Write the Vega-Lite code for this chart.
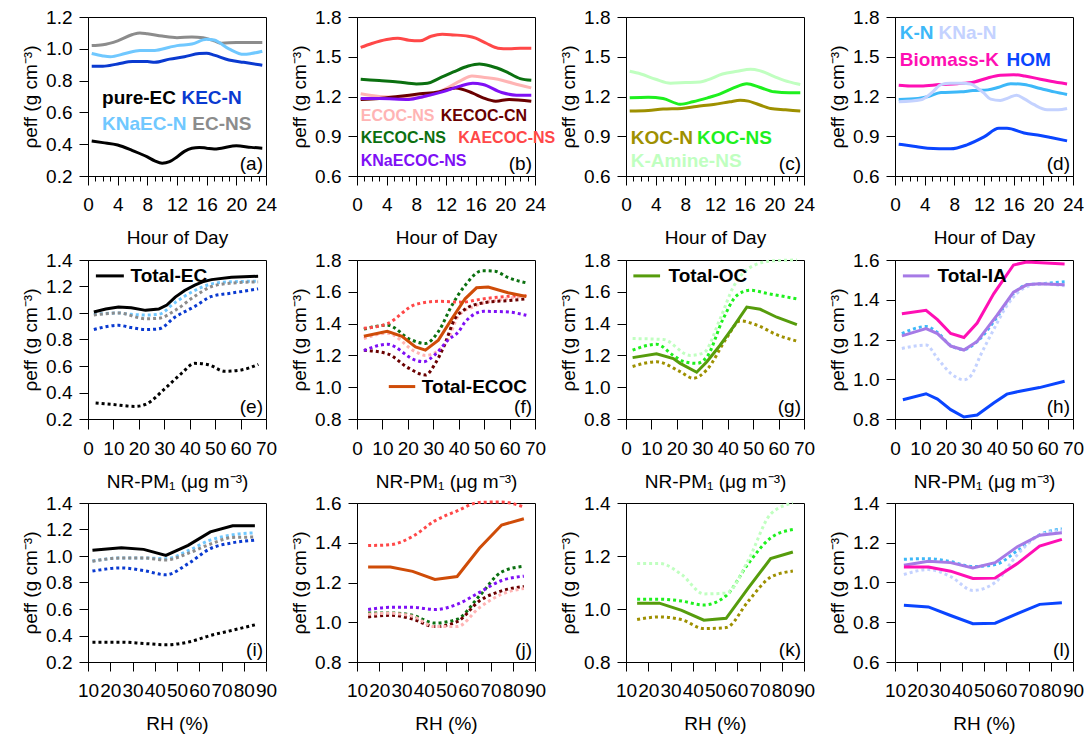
{
"$schema": "https://vega.github.io/schema/vega-lite/v6.json",
"padding": {"left": 21, "top": 7, "right": 4, "bottom": 4},
"config": {
 "font": "Liberation Sans",
 "legend": {"disable": true},
 "view": {"stroke": "#000", "strokeWidth": 1},
 "axis": {"grid": false, "domainColor": "#000", "domainWidth": 1, "tickColor": "#000", "tickWidth": 1, "tickSize": 9, "labelColor": "#000", "titleColor": "#000", "labelFont": "Liberation Sans", "titleFont": "Liberation Sans", "labelFontSize": 19, "titleFontSize": 19, "titleFontWeight": "normal", "labelFlush": false, "labelOverlap": false},
 "axisX": {"labelPadding": 10, "titlePadding": 14},
 "axisY": {"labelPadding": 7, "titlePadding": 5},
 "text": {"font": "Liberation Sans", "fontSize": 19}
},
"datasets": {"L": [
{"p":"a","s":"pure-EC","x":0.5,"y":0.42},{"p":"a","s":"pure-EC","x":2,"y":0.41},{"p":"a","s":"pure-EC","x":4,"y":0.395},{"p":"a","s":"pure-EC","x":6,"y":0.36},{"p":"a","s":"pure-EC","x":8,"y":0.32},{"p":"a","s":"pure-EC","x":9,"y":0.295},{"p":"a","s":"pure-EC","x":10,"y":0.28},{"p":"a","s":"pure-EC","x":11,"y":0.29},{"p":"a","s":"pure-EC","x":12,"y":0.32},{"p":"a","s":"pure-EC","x":13,"y":0.355},{"p":"a","s":"pure-EC","x":14,"y":0.375},{"p":"a","s":"pure-EC","x":15,"y":0.38},{"p":"a","s":"pure-EC","x":16,"y":0.375},{"p":"a","s":"pure-EC","x":17,"y":0.37},{"p":"a","s":"pure-EC","x":18,"y":0.375},{"p":"a","s":"pure-EC","x":20,"y":0.39},{"p":"a","s":"pure-EC","x":22,"y":0.38},{"p":"a","s":"pure-EC","x":23.5,"y":0.375},
{"p":"a","s":"EC-NS","x":0.5,"y":1.02},{"p":"a","s":"EC-NS","x":2,"y":1.025},{"p":"a","s":"EC-NS","x":4,"y":1.05},{"p":"a","s":"EC-NS","x":6,"y":1.09},{"p":"a","s":"EC-NS","x":7,"y":1.1},{"p":"a","s":"EC-NS","x":8,"y":1.095},{"p":"a","s":"EC-NS","x":10,"y":1.08},{"p":"a","s":"EC-NS","x":12,"y":1.07},{"p":"a","s":"EC-NS","x":14,"y":1.075},{"p":"a","s":"EC-NS","x":15.5,"y":1.07},{"p":"a","s":"EC-NS","x":17,"y":1.05},{"p":"a","s":"EC-NS","x":18,"y":1.035},{"p":"a","s":"EC-NS","x":20,"y":1.04},{"p":"a","s":"EC-NS","x":22,"y":1.04},{"p":"a","s":"EC-NS","x":23.5,"y":1.04},
{"p":"a","s":"KNaEC-N","x":0.5,"y":0.97},{"p":"a","s":"KNaEC-N","x":2,"y":0.955},{"p":"a","s":"KNaEC-N","x":3,"y":0.95},{"p":"a","s":"KNaEC-N","x":5,"y":0.97},{"p":"a","s":"KNaEC-N","x":7,"y":0.99},{"p":"a","s":"KNaEC-N","x":9,"y":0.99},{"p":"a","s":"KNaEC-N","x":11,"y":1.01},{"p":"a","s":"KNaEC-N","x":12,"y":1.02},{"p":"a","s":"KNaEC-N","x":14,"y":1.03},{"p":"a","s":"KNaEC-N","x":16,"y":1.06},{"p":"a","s":"KNaEC-N","x":17,"y":1.055},{"p":"a","s":"KNaEC-N","x":19,"y":1.0},{"p":"a","s":"KNaEC-N","x":21,"y":0.965},{"p":"a","s":"KNaEC-N","x":22,"y":0.97},{"p":"a","s":"KNaEC-N","x":23.5,"y":0.985},
{"p":"a","s":"KEC-N","x":0.5,"y":0.89},{"p":"a","s":"KEC-N","x":2,"y":0.89},{"p":"a","s":"KEC-N","x":4,"y":0.905},{"p":"a","s":"KEC-N","x":6,"y":0.92},{"p":"a","s":"KEC-N","x":8,"y":0.92},{"p":"a","s":"KEC-N","x":9,"y":0.915},{"p":"a","s":"KEC-N","x":11,"y":0.935},{"p":"a","s":"KEC-N","x":13,"y":0.95},{"p":"a","s":"KEC-N","x":15,"y":0.97},{"p":"a","s":"KEC-N","x":16,"y":0.972},{"p":"a","s":"KEC-N","x":17,"y":0.96},{"p":"a","s":"KEC-N","x":19,"y":0.93},{"p":"a","s":"KEC-N","x":21,"y":0.915},{"p":"a","s":"KEC-N","x":23.5,"y":0.897},
{"p":"b","s":"KAECOC-NS","x":0.5,"y":1.57},{"p":"b","s":"KAECOC-NS","x":2,"y":1.6},{"p":"b","s":"KAECOC-NS","x":4,"y":1.63},{"p":"b","s":"KAECOC-NS","x":5.5,"y":1.64},{"p":"b","s":"KAECOC-NS","x":7,"y":1.625},{"p":"b","s":"KAECOC-NS","x":8.5,"y":1.62},{"p":"b","s":"KAECOC-NS","x":10,"y":1.655},{"p":"b","s":"KAECOC-NS","x":11.5,"y":1.67},{"p":"b","s":"KAECOC-NS","x":13,"y":1.665},{"p":"b","s":"KAECOC-NS","x":15,"y":1.655},{"p":"b","s":"KAECOC-NS","x":16,"y":1.64},{"p":"b","s":"KAECOC-NS","x":17.5,"y":1.6},{"p":"b","s":"KAECOC-NS","x":19,"y":1.565},{"p":"b","s":"KAECOC-NS","x":20.5,"y":1.56},{"p":"b","s":"KAECOC-NS","x":22,"y":1.565},{"p":"b","s":"KAECOC-NS","x":23.5,"y":1.565},
{"p":"b","s":"KECOC-NS","x":0.5,"y":1.33},{"p":"b","s":"KECOC-NS","x":3,"y":1.32},{"p":"b","s":"KECOC-NS","x":5.5,"y":1.31},{"p":"b","s":"KECOC-NS","x":8,"y":1.295},{"p":"b","s":"KECOC-NS","x":9.5,"y":1.3},{"p":"b","s":"KECOC-NS","x":11,"y":1.335},{"p":"b","s":"KECOC-NS","x":13,"y":1.385},{"p":"b","s":"KECOC-NS","x":15,"y":1.43},{"p":"b","s":"KECOC-NS","x":16.5,"y":1.445},{"p":"b","s":"KECOC-NS","x":18,"y":1.43},{"p":"b","s":"KECOC-NS","x":20,"y":1.39},{"p":"b","s":"KECOC-NS","x":22,"y":1.335},{"p":"b","s":"KECOC-NS","x":23.5,"y":1.322},
{"p":"b","s":"ECOC-NS","x":0.5,"y":1.22},{"p":"b","s":"ECOC-NS","x":3,"y":1.2},{"p":"b","s":"ECOC-NS","x":5,"y":1.195},{"p":"b","s":"ECOC-NS","x":8,"y":1.19},{"p":"b","s":"ECOC-NS","x":10,"y":1.215},{"p":"b","s":"ECOC-NS","x":12,"y":1.26},{"p":"b","s":"ECOC-NS","x":14,"y":1.32},{"p":"b","s":"ECOC-NS","x":15.5,"y":1.355},{"p":"b","s":"ECOC-NS","x":17,"y":1.345},{"p":"b","s":"ECOC-NS","x":19,"y":1.33},{"p":"b","s":"ECOC-NS","x":21,"y":1.3},{"p":"b","s":"ECOC-NS","x":23.5,"y":1.265},
{"p":"b","s":"KECOC-CN","x":0.5,"y":1.178},{"p":"b","s":"KECOC-CN","x":3,"y":1.185},{"p":"b","s":"KECOC-CN","x":5.5,"y":1.2},{"p":"b","s":"KECOC-CN","x":8.5,"y":1.22},{"p":"b","s":"KECOC-CN","x":11,"y":1.235},{"p":"b","s":"KECOC-CN","x":13.3,"y":1.265},{"p":"b","s":"KECOC-CN","x":15.6,"y":1.225},{"p":"b","s":"KECOC-CN","x":17,"y":1.19},{"p":"b","s":"KECOC-CN","x":18.7,"y":1.165},{"p":"b","s":"KECOC-CN","x":20.5,"y":1.178},{"p":"b","s":"KECOC-CN","x":23.5,"y":1.165},
{"p":"b","s":"KNaECOC-NS","x":0.5,"y":1.185},{"p":"b","s":"KNaECOC-NS","x":3,"y":1.185},{"p":"b","s":"KNaECOC-NS","x":7,"y":1.178},{"p":"b","s":"KNaECOC-NS","x":9,"y":1.2},{"p":"b","s":"KNaECOC-NS","x":11.5,"y":1.235},{"p":"b","s":"KNaECOC-NS","x":14,"y":1.28},{"p":"b","s":"KNaECOC-NS","x":15.6,"y":1.3},{"p":"b","s":"KNaECOC-NS","x":17,"y":1.29},{"p":"b","s":"KNaECOC-NS","x":19.5,"y":1.23},{"p":"b","s":"KNaECOC-NS","x":21.5,"y":1.21},{"p":"b","s":"KNaECOC-NS","x":23.5,"y":1.21},
{"p":"c","s":"K-Amine-NS","x":0.5,"y":1.39},{"p":"c","s":"K-Amine-NS","x":2,"y":1.37},{"p":"c","s":"K-Amine-NS","x":4,"y":1.33},{"p":"c","s":"K-Amine-NS","x":6,"y":1.3},{"p":"c","s":"K-Amine-NS","x":8,"y":1.305},{"p":"c","s":"K-Amine-NS","x":10,"y":1.31},{"p":"c","s":"K-Amine-NS","x":11,"y":1.325},{"p":"c","s":"K-Amine-NS","x":13,"y":1.37},{"p":"c","s":"K-Amine-NS","x":15,"y":1.39},{"p":"c","s":"K-Amine-NS","x":16.8,"y":1.405},{"p":"c","s":"K-Amine-NS","x":18,"y":1.395},{"p":"c","s":"K-Amine-NS","x":20,"y":1.35},{"p":"c","s":"K-Amine-NS","x":22,"y":1.31},{"p":"c","s":"K-Amine-NS","x":23.5,"y":1.29},
{"p":"c","s":"KOC-NS","x":0.5,"y":1.19},{"p":"c","s":"KOC-NS","x":3,"y":1.195},{"p":"c","s":"KOC-NS","x":5,"y":1.185},{"p":"c","s":"KOC-NS","x":7.3,"y":1.142},{"p":"c","s":"KOC-NS","x":9,"y":1.16},{"p":"c","s":"KOC-NS","x":11,"y":1.19},{"p":"c","s":"KOC-NS","x":12.7,"y":1.22},{"p":"c","s":"KOC-NS","x":14.5,"y":1.265},{"p":"c","s":"KOC-NS","x":16.3,"y":1.297},{"p":"c","s":"KOC-NS","x":18,"y":1.27},{"p":"c","s":"KOC-NS","x":20,"y":1.235},{"p":"c","s":"KOC-NS","x":22,"y":1.228},{"p":"c","s":"KOC-NS","x":23.5,"y":1.228},
{"p":"c","s":"KOC-N","x":0.5,"y":1.09},{"p":"c","s":"KOC-N","x":3,"y":1.095},{"p":"c","s":"KOC-N","x":5,"y":1.105},{"p":"c","s":"KOC-N","x":7.5,"y":1.11},{"p":"c","s":"KOC-N","x":9.5,"y":1.125},{"p":"c","s":"KOC-N","x":11.8,"y":1.14},{"p":"c","s":"KOC-N","x":14,"y":1.16},{"p":"c","s":"KOC-N","x":15.4,"y":1.172},{"p":"c","s":"KOC-N","x":16.5,"y":1.165},{"p":"c","s":"KOC-N","x":17.6,"y":1.145},{"p":"c","s":"KOC-N","x":19.5,"y":1.11},{"p":"c","s":"KOC-N","x":21.5,"y":1.1},{"p":"c","s":"KOC-N","x":23.5,"y":1.09},
{"p":"d","s":"Biomass-K","x":0.5,"y":1.285},{"p":"d","s":"Biomass-K","x":2,"y":1.28},{"p":"d","s":"Biomass-K","x":3.5,"y":1.28},{"p":"d","s":"Biomass-K","x":6,"y":1.29},{"p":"d","s":"Biomass-K","x":8.4,"y":1.297},{"p":"d","s":"Biomass-K","x":10.7,"y":1.31},{"p":"d","s":"Biomass-K","x":12.5,"y":1.34},{"p":"d","s":"Biomass-K","x":14.2,"y":1.36},{"p":"d","s":"Biomass-K","x":16,"y":1.365},{"p":"d","s":"Biomass-K","x":17.5,"y":1.355},{"p":"d","s":"Biomass-K","x":19.6,"y":1.33},{"p":"d","s":"Biomass-K","x":21,"y":1.315},{"p":"d","s":"Biomass-K","x":23.2,"y":1.295},
{"p":"d","s":"K-N","x":0.5,"y":1.178},{"p":"d","s":"K-N","x":3.1,"y":1.185},{"p":"d","s":"K-N","x":4.5,"y":1.2},{"p":"d","s":"K-N","x":6.2,"y":1.23},{"p":"d","s":"K-N","x":8.9,"y":1.235},{"p":"d","s":"K-N","x":10.5,"y":1.245},{"p":"d","s":"K-N","x":12.5,"y":1.25},{"p":"d","s":"K-N","x":14,"y":1.27},{"p":"d","s":"K-N","x":15.6,"y":1.297},{"p":"d","s":"K-N","x":17.4,"y":1.29},{"p":"d","s":"K-N","x":19.6,"y":1.26},{"p":"d","s":"K-N","x":21.5,"y":1.235},{"p":"d","s":"K-N","x":23.2,"y":1.215},
{"p":"d","s":"KNa-N","x":0.5,"y":1.16},{"p":"d","s":"KNa-N","x":3.5,"y":1.175},{"p":"d","s":"KNa-N","x":5,"y":1.23},{"p":"d","s":"KNa-N","x":6.2,"y":1.29},{"p":"d","s":"KNa-N","x":7.5,"y":1.3},{"p":"d","s":"KNa-N","x":9,"y":1.3},{"p":"d","s":"KNa-N","x":10.2,"y":1.295},{"p":"d","s":"KNa-N","x":11.2,"y":1.26},{"p":"d","s":"KNa-N","x":12,"y":1.225},{"p":"d","s":"KNa-N","x":12.9,"y":1.18},{"p":"d","s":"KNa-N","x":14.2,"y":1.17},{"p":"d","s":"KNa-N","x":15.3,"y":1.19},{"p":"d","s":"KNa-N","x":16.4,"y":1.21},{"p":"d","s":"KNa-N","x":17.5,"y":1.18},{"p":"d","s":"KNa-N","x":18.7,"y":1.14},{"p":"d","s":"KNa-N","x":20.5,"y":1.1},{"p":"d","s":"KNa-N","x":22,"y":1.1},{"p":"d","s":"KNa-N","x":23.2,"y":1.11},
{"p":"d","s":"HOM","x":0.5,"y":0.84},{"p":"d","s":"HOM","x":2.5,"y":0.825},{"p":"d","s":"HOM","x":4.4,"y":0.81},{"p":"d","s":"HOM","x":7.5,"y":0.805},{"p":"d","s":"HOM","x":9.7,"y":0.835},{"p":"d","s":"HOM","x":12,"y":0.895},{"p":"d","s":"HOM","x":14,"y":0.96},{"p":"d","s":"HOM","x":15.1,"y":0.96},{"p":"d","s":"HOM","x":17.4,"y":0.925},{"p":"d","s":"HOM","x":19.6,"y":0.905},{"p":"d","s":"HOM","x":21,"y":0.89},{"p":"d","s":"HOM","x":23.2,"y":0.865},
{"p":"e","s":"Total-EC","x":2.3,"y":1.007},{"p":"e","s":"Total-EC","x":7,"y":1.03},{"p":"e","s":"Total-EC","x":12,"y":1.045},{"p":"e","s":"Total-EC","x":17,"y":1.04},{"p":"e","s":"Total-EC","x":22.6,"y":1.02},{"p":"e","s":"Total-EC","x":27.8,"y":1.03},{"p":"e","s":"Total-EC","x":31,"y":1.06},{"p":"e","s":"Total-EC","x":34.3,"y":1.12},{"p":"e","s":"Total-EC","x":38,"y":1.17},{"p":"e","s":"Total-EC","x":42,"y":1.21},{"p":"e","s":"Total-EC","x":45,"y":1.235},{"p":"e","s":"Total-EC","x":48.6,"y":1.252},{"p":"e","s":"Total-EC","x":56.4,"y":1.27},{"p":"e","s":"Total-EC","x":66.9,"y":1.277},
{"p":"e","s":"KNaEC-N","x":2.3,"y":0.99},{"p":"e","s":"KNaEC-N","x":12,"y":1.0},{"p":"e","s":"KNaEC-N","x":17,"y":0.99},{"p":"e","s":"KNaEC-N","x":22.6,"y":0.985},{"p":"e","s":"KNaEC-N","x":27.8,"y":0.99},{"p":"e","s":"KNaEC-N","x":34.3,"y":1.08},{"p":"e","s":"KNaEC-N","x":42,"y":1.17},{"p":"e","s":"KNaEC-N","x":48.6,"y":1.22},{"p":"e","s":"KNaEC-N","x":56,"y":1.235},{"p":"e","s":"KNaEC-N","x":66.9,"y":1.24},
{"p":"e","s":"EC-NS","x":2.3,"y":0.985},{"p":"e","s":"EC-NS","x":12,"y":1.0},{"p":"e","s":"EC-NS","x":22.6,"y":0.957},{"p":"e","s":"EC-NS","x":27.8,"y":0.96},{"p":"e","s":"EC-NS","x":34.3,"y":1.02},{"p":"e","s":"EC-NS","x":42,"y":1.127},{"p":"e","s":"EC-NS","x":48.6,"y":1.2},{"p":"e","s":"EC-NS","x":56,"y":1.225},{"p":"e","s":"EC-NS","x":66.9,"y":1.235},
{"p":"e","s":"KEC-N","x":2.3,"y":0.875},{"p":"e","s":"KEC-N","x":12,"y":0.907},{"p":"e","s":"KEC-N","x":17,"y":0.89},{"p":"e","s":"KEC-N","x":22.6,"y":0.875},{"p":"e","s":"KEC-N","x":27.8,"y":0.88},{"p":"e","s":"KEC-N","x":34.3,"y":0.97},{"p":"e","s":"KEC-N","x":42,"y":1.05},{"p":"e","s":"KEC-N","x":48.6,"y":1.125},{"p":"e","s":"KEC-N","x":56.4,"y":1.15},{"p":"e","s":"KEC-N","x":66.9,"y":1.182},
{"p":"e","s":"pure-EC","x":3,"y":0.32},{"p":"e","s":"pure-EC","x":9.4,"y":0.31},{"p":"e","s":"pure-EC","x":18.6,"y":0.295},{"p":"e","s":"pure-EC","x":22.6,"y":0.31},{"p":"e","s":"pure-EC","x":30.4,"y":0.432},{"p":"e","s":"pure-EC","x":36.8,"y":0.545},{"p":"e","s":"pure-EC","x":42,"y":0.62},{"p":"e","s":"pure-EC","x":47.3,"y":0.61},{"p":"e","s":"pure-EC","x":53.8,"y":0.56},{"p":"e","s":"pure-EC","x":60.3,"y":0.57},{"p":"e","s":"pure-EC","x":67,"y":0.613},
{"p":"f","s":"Total-ECOC","x":2.7,"y":1.32},{"p":"f","s":"Total-ECOC","x":11.9,"y":1.352},{"p":"f","s":"Total-ECOC","x":17.7,"y":1.32},{"p":"f","s":"Total-ECOC","x":23,"y":1.254},{"p":"f","s":"Total-ECOC","x":26.9,"y":1.233},{"p":"f","s":"Total-ECOC","x":32,"y":1.296},{"p":"f","s":"Total-ECOC","x":37.3,"y":1.43},{"p":"f","s":"Total-ECOC","x":42.5,"y":1.556},{"p":"f","s":"Total-ECOC","x":47,"y":1.625},{"p":"f","s":"Total-ECOC","x":51.6,"y":1.63},{"p":"f","s":"Total-ECOC","x":59.4,"y":1.594},{"p":"f","s":"Total-ECOC","x":66.6,"y":1.57},
{"p":"f","s":"KECOC-NS","x":2.7,"y":1.365},{"p":"f","s":"KECOC-NS","x":12,"y":1.39},{"p":"f","s":"KECOC-NS","x":21,"y":1.3},{"p":"f","s":"KECOC-NS","x":26.9,"y":1.275},{"p":"f","s":"KECOC-NS","x":32,"y":1.35},{"p":"f","s":"KECOC-NS","x":37.3,"y":1.514},{"p":"f","s":"KECOC-NS","x":42.5,"y":1.64},{"p":"f","s":"KECOC-NS","x":49.4,"y":1.733},{"p":"f","s":"KECOC-NS","x":54.2,"y":1.73},{"p":"f","s":"KECOC-NS","x":59.4,"y":1.69},{"p":"f","s":"KECOC-NS","x":66.6,"y":1.656},
{"p":"f","s":"KAECOC-NS","x":2.7,"y":1.37},{"p":"f","s":"KAECOC-NS","x":12,"y":1.4},{"p":"f","s":"KAECOC-NS","x":23,"y":1.52},{"p":"f","s":"KAECOC-NS","x":32,"y":1.54},{"p":"f","s":"KAECOC-NS","x":41.2,"y":1.535},{"p":"f","s":"KAECOC-NS","x":49.4,"y":1.555},{"p":"f","s":"KAECOC-NS","x":58.1,"y":1.57},{"p":"f","s":"KAECOC-NS","x":66.6,"y":1.575},
{"p":"f","s":"ECOC-NS","x":2.7,"y":1.306},{"p":"f","s":"ECOC-NS","x":12,"y":1.34},{"p":"f","s":"ECOC-NS","x":23,"y":1.223},{"p":"f","s":"ECOC-NS","x":26.9,"y":1.2},{"p":"f","s":"ECOC-NS","x":34.7,"y":1.27},{"p":"f","s":"ECOC-NS","x":40,"y":1.45},{"p":"f","s":"ECOC-NS","x":46.4,"y":1.51},{"p":"f","s":"ECOC-NS","x":58.1,"y":1.555},{"p":"f","s":"ECOC-NS","x":66.6,"y":1.575},
{"p":"f","s":"KECOC-CN","x":2.7,"y":1.233},{"p":"f","s":"KECOC-CN","x":12,"y":1.21},{"p":"f","s":"KECOC-CN","x":20.3,"y":1.12},{"p":"f","s":"KECOC-CN","x":26.9,"y":1.077},{"p":"f","s":"KECOC-CN","x":30.8,"y":1.15},{"p":"f","s":"KECOC-CN","x":34,"y":1.25},{"p":"f","s":"KECOC-CN","x":38.5,"y":1.43},{"p":"f","s":"KECOC-CN","x":42.5,"y":1.49},{"p":"f","s":"KECOC-CN","x":49.4,"y":1.53},{"p":"f","s":"KECOC-CN","x":59.4,"y":1.545},{"p":"f","s":"KECOC-CN","x":66.6,"y":1.555},
{"p":"f","s":"KNaECOC-NS","x":2.7,"y":1.23},{"p":"f","s":"KNaECOC-NS","x":11.9,"y":1.27},{"p":"f","s":"KNaECOC-NS","x":23,"y":1.17},{"p":"f","s":"KNaECOC-NS","x":26,"y":1.16},{"p":"f","s":"KNaECOC-NS","x":31,"y":1.21},{"p":"f","s":"KNaECOC-NS","x":36,"y":1.3},{"p":"f","s":"KNaECOC-NS","x":40,"y":1.35},{"p":"f","s":"KNaECOC-NS","x":42.5,"y":1.41},{"p":"f","s":"KNaECOC-NS","x":50,"y":1.477},{"p":"f","s":"KNaECOC-NS","x":58,"y":1.475},{"p":"f","s":"KNaECOC-NS","x":66.6,"y":1.452},
{"p":"g","s":"Total-OC","x":2.6,"y":1.186},{"p":"g","s":"Total-OC","x":12,"y":1.21},{"p":"g","s":"Total-OC","x":18.6,"y":1.18},{"p":"g","s":"Total-OC","x":21.3,"y":1.15},{"p":"g","s":"Total-OC","x":27.8,"y":1.094},{"p":"g","s":"Total-OC","x":31.8,"y":1.16},{"p":"g","s":"Total-OC","x":37,"y":1.264},{"p":"g","s":"Total-OC","x":42.2,"y":1.38},{"p":"g","s":"Total-OC","x":47.5,"y":1.504},{"p":"g","s":"Total-OC","x":52.8,"y":1.49},{"p":"g","s":"Total-OC","x":59.3,"y":1.44},{"p":"g","s":"Total-OC","x":67.2,"y":1.394},
{"p":"g","s":"KOC-NS","x":2.6,"y":1.233},{"p":"g","s":"KOC-NS","x":12,"y":1.27},{"p":"g","s":"KOC-NS","x":18.6,"y":1.2},{"p":"g","s":"KOC-NS","x":23,"y":1.16},{"p":"g","s":"KOC-NS","x":27.8,"y":1.15},{"p":"g","s":"KOC-NS","x":31.8,"y":1.19},{"p":"g","s":"KOC-NS","x":38.2,"y":1.43},{"p":"g","s":"KOC-NS","x":43.6,"y":1.577},{"p":"g","s":"KOC-NS","x":48.8,"y":1.61},{"p":"g","s":"KOC-NS","x":55.4,"y":1.59},{"p":"g","s":"KOC-NS","x":67.2,"y":1.556},
{"p":"g","s":"K-Amine-NS","x":2.6,"y":1.306},{"p":"g","s":"K-Amine-NS","x":14.7,"y":1.3},{"p":"g","s":"K-Amine-NS","x":25.2,"y":1.2},{"p":"g","s":"K-Amine-NS","x":30.4,"y":1.215},{"p":"g","s":"K-Amine-NS","x":37,"y":1.43},{"p":"g","s":"K-Amine-NS","x":42.2,"y":1.63},{"p":"g","s":"K-Amine-NS","x":50,"y":1.764},{"p":"g","s":"K-Amine-NS","x":57.9,"y":1.795},{"p":"g","s":"K-Amine-NS","x":67.2,"y":1.8},
{"p":"g","s":"KOC-N","x":2.6,"y":1.13},{"p":"g","s":"KOC-N","x":12,"y":1.16},{"p":"g","s":"KOC-N","x":21.3,"y":1.098},{"p":"g","s":"KOC-N","x":26.5,"y":1.056},{"p":"g","s":"KOC-N","x":31.8,"y":1.11},{"p":"g","s":"KOC-N","x":39.6,"y":1.31},{"p":"g","s":"KOC-N","x":44.9,"y":1.417},{"p":"g","s":"KOC-N","x":51.5,"y":1.39},{"p":"g","s":"KOC-N","x":59.3,"y":1.33},{"p":"g","s":"KOC-N","x":67.2,"y":1.29},
{"p":"h","s":"Biomass-K","x":2.7,"y":1.33},{"p":"h","s":"Biomass-K","x":12.2,"y":1.347},{"p":"h","s":"Biomass-K","x":16.7,"y":1.3},{"p":"h","s":"Biomass-K","x":21.9,"y":1.23},{"p":"h","s":"Biomass-K","x":27.1,"y":1.21},{"p":"h","s":"Biomass-K","x":32.3,"y":1.283},{"p":"h","s":"Biomass-K","x":38.8,"y":1.43},{"p":"h","s":"Biomass-K","x":46.6,"y":1.575},{"p":"h","s":"Biomass-K","x":51.8,"y":1.59},{"p":"h","s":"Biomass-K","x":66.7,"y":1.58},
{"p":"h","s":"Total-IA","x":2.7,"y":1.218},{"p":"h","s":"Total-IA","x":12.2,"y":1.255},{"p":"h","s":"Total-IA","x":16.7,"y":1.23},{"p":"h","s":"Total-IA","x":21.9,"y":1.167},{"p":"h","s":"Total-IA","x":27.1,"y":1.147},{"p":"h","s":"Total-IA","x":32.3,"y":1.19},{"p":"h","s":"Total-IA","x":40,"y":1.32},{"p":"h","s":"Total-IA","x":46.6,"y":1.438},{"p":"h","s":"Total-IA","x":51.8,"y":1.475},{"p":"h","s":"Total-IA","x":56.8,"y":1.48},{"p":"h","s":"Total-IA","x":66.7,"y":1.475},
{"p":"h","s":"K-N","x":2.7,"y":1.23},{"p":"h","s":"K-N","x":12.2,"y":1.265},{"p":"h","s":"K-N","x":16.7,"y":1.235},{"p":"h","s":"K-N","x":21.9,"y":1.17},{"p":"h","s":"K-N","x":27.1,"y":1.15},{"p":"h","s":"K-N","x":32.3,"y":1.19},{"p":"h","s":"K-N","x":40,"y":1.31},{"p":"h","s":"K-N","x":46.6,"y":1.43},{"p":"h","s":"K-N","x":51.8,"y":1.475},{"p":"h","s":"K-N","x":56.8,"y":1.48},{"p":"h","s":"K-N","x":66.7,"y":1.49},
{"p":"h","s":"KNa-N","x":2.7,"y":1.155},{"p":"h","s":"KNa-N","x":12.2,"y":1.172},{"p":"h","s":"KNa-N","x":17,"y":1.1},{"p":"h","s":"KNa-N","x":21.9,"y":1.03},{"p":"h","s":"KNa-N","x":27.1,"y":0.997},{"p":"h","s":"KNa-N","x":30,"y":1.02},{"p":"h","s":"KNa-N","x":33.6,"y":1.12},{"p":"h","s":"KNa-N","x":38.8,"y":1.25},{"p":"h","s":"KNa-N","x":44,"y":1.37},{"p":"h","s":"KNa-N","x":49.1,"y":1.445},{"p":"h","s":"KNa-N","x":56.8,"y":1.48},{"p":"h","s":"KNa-N","x":66.7,"y":1.47},
{"p":"h","s":"HOM","x":3.1,"y":0.897},{"p":"h","s":"HOM","x":12.2,"y":0.927},{"p":"h","s":"HOM","x":16.7,"y":0.9},{"p":"h","s":"HOM","x":21.9,"y":0.847},{"p":"h","s":"HOM","x":27.1,"y":0.81},{"p":"h","s":"HOM","x":32.3,"y":0.82},{"p":"h","s":"HOM","x":38.8,"y":0.88},{"p":"h","s":"HOM","x":44,"y":0.925},{"p":"h","s":"HOM","x":49.1,"y":0.94},{"p":"h","s":"HOM","x":56.8,"y":0.958},{"p":"h","s":"HOM","x":66.7,"y":0.99},
{"p":"i","s":"Total-EC","x":12,"y":1.043},{"p":"i","s":"Total-EC","x":25,"y":1.063},{"p":"i","s":"Total-EC","x":35,"y":1.05},{"p":"i","s":"Total-EC","x":45,"y":1.005},{"p":"i","s":"Total-EC","x":55,"y":1.08},{"p":"i","s":"Total-EC","x":65,"y":1.182},{"p":"i","s":"Total-EC","x":75,"y":1.228},{"p":"i","s":"Total-EC","x":85,"y":1.228},
{"p":"i","s":"KNaEC-N","x":12,"y":0.962},{"p":"i","s":"KNaEC-N","x":25,"y":0.985},{"p":"i","s":"KNaEC-N","x":35,"y":0.985},{"p":"i","s":"KNaEC-N","x":45,"y":0.98},{"p":"i","s":"KNaEC-N","x":55,"y":1.04},{"p":"i","s":"KNaEC-N","x":65,"y":1.12},{"p":"i","s":"KNaEC-N","x":75,"y":1.16},{"p":"i","s":"KNaEC-N","x":85,"y":1.175},
{"p":"i","s":"EC-NS","x":12,"y":0.96},{"p":"i","s":"EC-NS","x":25,"y":0.985},{"p":"i","s":"EC-NS","x":35,"y":0.985},{"p":"i","s":"EC-NS","x":45,"y":0.97},{"p":"i","s":"EC-NS","x":55,"y":1.02},{"p":"i","s":"EC-NS","x":65,"y":1.09},{"p":"i","s":"EC-NS","x":75,"y":1.14},{"p":"i","s":"EC-NS","x":85,"y":1.143},
{"p":"i","s":"KEC-N","x":12,"y":0.886},{"p":"i","s":"KEC-N","x":25,"y":0.91},{"p":"i","s":"KEC-N","x":35,"y":0.89},{"p":"i","s":"KEC-N","x":45,"y":0.858},{"p":"i","s":"KEC-N","x":55,"y":0.942},{"p":"i","s":"KEC-N","x":65,"y":1.056},{"p":"i","s":"KEC-N","x":75,"y":1.1},{"p":"i","s":"KEC-N","x":85,"y":1.12},
{"p":"i","s":"pure-EC","x":12,"y":0.35},{"p":"i","s":"pure-EC","x":25,"y":0.35},{"p":"i","s":"pure-EC","x":35,"y":0.34},{"p":"i","s":"pure-EC","x":45,"y":0.33},{"p":"i","s":"pure-EC","x":55,"y":0.35},{"p":"i","s":"pure-EC","x":65,"y":0.4},{"p":"i","s":"pure-EC","x":75,"y":0.44},{"p":"i","s":"pure-EC","x":85,"y":0.48},
{"p":"j","s":"Total-ECOC","x":15,"y":1.278},{"p":"j","s":"Total-ECOC","x":25,"y":1.278},{"p":"j","s":"Total-ECOC","x":35,"y":1.256},{"p":"j","s":"Total-ECOC","x":45,"y":1.215},{"p":"j","s":"Total-ECOC","x":55,"y":1.23},{"p":"j","s":"Total-ECOC","x":65,"y":1.372},{"p":"j","s":"Total-ECOC","x":75,"y":1.489},{"p":"j","s":"Total-ECOC","x":85,"y":1.521},
{"p":"j","s":"KAECOC-NS","x":15,"y":1.386},{"p":"j","s":"KAECOC-NS","x":25,"y":1.39},{"p":"j","s":"KAECOC-NS","x":35,"y":1.432},{"p":"j","s":"KAECOC-NS","x":45,"y":1.51},{"p":"j","s":"KAECOC-NS","x":55,"y":1.56},{"p":"j","s":"KAECOC-NS","x":65,"y":1.603},{"p":"j","s":"KAECOC-NS","x":75,"y":1.605},{"p":"j","s":"KAECOC-NS","x":85,"y":1.58},
{"p":"j","s":"KECOC-NS","x":15,"y":1.047},{"p":"j","s":"KECOC-NS","x":25,"y":1.047},{"p":"j","s":"KECOC-NS","x":35,"y":1.035},{"p":"j","s":"KECOC-NS","x":45,"y":0.996},{"p":"j","s":"KECOC-NS","x":55,"y":1.015},{"p":"j","s":"KECOC-NS","x":65,"y":1.132},{"p":"j","s":"KECOC-NS","x":75,"y":1.253},{"p":"j","s":"KECOC-NS","x":85,"y":1.282},
{"p":"j","s":"KNaECOC-NS","x":15,"y":1.064},{"p":"j","s":"KNaECOC-NS","x":25,"y":1.075},{"p":"j","s":"KNaECOC-NS","x":35,"y":1.075},{"p":"j","s":"KNaECOC-NS","x":45,"y":1.064},{"p":"j","s":"KNaECOC-NS","x":55,"y":1.09},{"p":"j","s":"KNaECOC-NS","x":65,"y":1.15},{"p":"j","s":"KNaECOC-NS","x":75,"y":1.21},{"p":"j","s":"KNaECOC-NS","x":85,"y":1.232},
{"p":"j","s":"KECOC-CN","x":15,"y":1.027},{"p":"j","s":"KECOC-CN","x":25,"y":1.035},{"p":"j","s":"KECOC-CN","x":35,"y":1.016},{"p":"j","s":"KECOC-CN","x":45,"y":0.978},{"p":"j","s":"KECOC-CN","x":55,"y":1.003},{"p":"j","s":"KECOC-CN","x":65,"y":1.107},{"p":"j","s":"KECOC-CN","x":75,"y":1.158},{"p":"j","s":"KECOC-CN","x":85,"y":1.18},
{"p":"j","s":"ECOC-NS","x":15,"y":1.04},{"p":"j","s":"ECOC-NS","x":25,"y":1.045},{"p":"j","s":"ECOC-NS","x":35,"y":1.03},{"p":"j","s":"ECOC-NS","x":45,"y":0.978},{"p":"j","s":"ECOC-NS","x":55,"y":0.978},{"p":"j","s":"ECOC-NS","x":65,"y":1.073},{"p":"j","s":"ECOC-NS","x":75,"y":1.141},{"p":"j","s":"ECOC-NS","x":85,"y":1.17},
{"p":"k","s":"Total-OC","x":15,"y":1.022},{"p":"k","s":"Total-OC","x":25,"y":1.022},{"p":"k","s":"Total-OC","x":35,"y":0.995},{"p":"k","s":"Total-OC","x":45,"y":0.958},{"p":"k","s":"Total-OC","x":55,"y":0.965},{"p":"k","s":"Total-OC","x":65,"y":1.08},{"p":"k","s":"Total-OC","x":75,"y":1.19},{"p":"k","s":"Total-OC","x":85,"y":1.215},
{"p":"k","s":"KOC-NS","x":15,"y":1.037},{"p":"k","s":"KOC-NS","x":25,"y":1.037},{"p":"k","s":"KOC-NS","x":35,"y":1.03},{"p":"k","s":"KOC-NS","x":45,"y":1.015},{"p":"k","s":"KOC-NS","x":55,"y":1.05},{"p":"k","s":"KOC-NS","x":65,"y":1.172},{"p":"k","s":"KOC-NS","x":75,"y":1.268},{"p":"k","s":"KOC-NS","x":85,"y":1.3},
{"p":"k","s":"K-Amine-NS","x":15,"y":1.172},{"p":"k","s":"K-Amine-NS","x":25,"y":1.172},{"p":"k","s":"K-Amine-NS","x":35,"y":1.13},{"p":"k","s":"K-Amine-NS","x":45,"y":1.057},{"p":"k","s":"K-Amine-NS","x":55,"y":1.06},{"p":"k","s":"K-Amine-NS","x":65,"y":1.185},{"p":"k","s":"K-Amine-NS","x":75,"y":1.358},{"p":"k","s":"K-Amine-NS","x":85,"y":1.4},
{"p":"k","s":"KOC-N","x":15,"y":0.96},{"p":"k","s":"KOC-N","x":25,"y":0.97},{"p":"k","s":"KOC-N","x":35,"y":0.96},{"p":"k","s":"KOC-N","x":45,"y":0.926},{"p":"k","s":"KOC-N","x":55,"y":0.93},{"p":"k","s":"KOC-N","x":65,"y":1.03},{"p":"k","s":"KOC-N","x":75,"y":1.12},{"p":"k","s":"KOC-N","x":85,"y":1.143},
{"p":"l","s":"Total-IA","x":14,"y":1.087},{"p":"l","s":"Total-IA","x":25,"y":1.107},{"p":"l","s":"Total-IA","x":35,"y":1.1},{"p":"l","s":"Total-IA","x":45,"y":1.073},{"p":"l","s":"Total-IA","x":55,"y":1.1},{"p":"l","s":"Total-IA","x":65,"y":1.18},{"p":"l","s":"Total-IA","x":75,"y":1.238},{"p":"l","s":"Total-IA","x":85,"y":1.25},
{"p":"l","s":"Biomass-K","x":14,"y":1.078},{"p":"l","s":"Biomass-K","x":25,"y":1.078},{"p":"l","s":"Biomass-K","x":35,"y":1.057},{"p":"l","s":"Biomass-K","x":45,"y":1.02},{"p":"l","s":"Biomass-K","x":55,"y":1.022},{"p":"l","s":"Biomass-K","x":65,"y":1.095},{"p":"l","s":"Biomass-K","x":75,"y":1.183},{"p":"l","s":"Biomass-K","x":85,"y":1.217},
{"p":"l","s":"K-N","x":14,"y":1.117},{"p":"l","s":"K-N","x":25,"y":1.12},{"p":"l","s":"K-N","x":35,"y":1.105},{"p":"l","s":"K-N","x":45,"y":1.08},{"p":"l","s":"K-N","x":55,"y":1.09},{"p":"l","s":"K-N","x":65,"y":1.16},{"p":"l","s":"K-N","x":75,"y":1.24},{"p":"l","s":"K-N","x":85,"y":1.27},
{"p":"l","s":"KNa-N","x":14,"y":1.04},{"p":"l","s":"KNa-N","x":25,"y":1.065},{"p":"l","s":"KNa-N","x":35,"y":1.03},{"p":"l","s":"KNa-N","x":45,"y":0.96},{"p":"l","s":"KNa-N","x":55,"y":1.0},{"p":"l","s":"KNa-N","x":65,"y":1.14},{"p":"l","s":"KNa-N","x":75,"y":1.238},{"p":"l","s":"KNa-N","x":85,"y":1.263},
{"p":"l","s":"HOM","x":14,"y":0.885},{"p":"l","s":"HOM","x":25,"y":0.877},{"p":"l","s":"HOM","x":35,"y":0.834},{"p":"l","s":"HOM","x":45,"y":0.793},{"p":"l","s":"HOM","x":55,"y":0.795},{"p":"l","s":"HOM","x":65,"y":0.843},{"p":"l","s":"HOM","x":75,"y":0.89},{"p":"l","s":"HOM","x":85,"y":0.898}
]},
"columns": 4,
"bounds": "flush",
"spacing": {"column": 91, "row": 84},
"concat": [
{"width":178,"height":159,
 "encoding":{
  "x":{"type":"quantitative","scale":{"domain":[0,24],"nice":false,"zero":false},"axis":{"values":[0,1,2,3,4,5,6,7,8,9,10,11,12,13,14,15,16,17,18,19,20,21,22,23,24],"labelOverlap":false,"labelExpr":"datum.value % 4 === 0 ? datum.label : ''","tickSize":{"condition":{"test":"datum.value % 4 === 0","value":9},"value":5},"title":"Hour of Day"}},
  "y":{"type":"quantitative","scale":{"domain":[0.2,1.2],"nice":false,"zero":false},"axis":{"values":[0.2,0.4,0.6,0.8,1.0,1.2],"labelOverlap":false,"format":".1f","title":"ρeff (g cm⁻³)"}},
  "color":{"type":"nominal","scale":{"domain":["pure-EC","KEC-N","KNaEC-N","EC-NS"],"range":["#000000","#0a3ad0","#70c8ff","#8c8c8c"]},"legend":null}},
 "layer":[
  {"data":{"name":"L"},"transform":[{"filter":"datum.p === 'a'"}],"mark":{"type":"line","strokeWidth":3,"interpolate":"monotone"},
   "encoding":{"x":{"field":"x"},"y":{"field":"y"},"color":{"field":"s"}}},
  {"data":{"values":[{}]},"mark":{"type":"text","text":"pure-EC","align":"left","baseline":"middle","fontWeight":"bold","fontSize":19},"encoding":{"x":{"datum":1.9},"y":{"datum":0.69},"color":{"datum":"pure-EC"}}},
  {"data":{"values":[{}]},"mark":{"type":"text","text":"KEC-N","align":"left","baseline":"middle","fontWeight":"bold","fontSize":19},"encoding":{"x":{"datum":12.6},"y":{"datum":0.69},"color":{"datum":"KEC-N"}}},
  {"data":{"values":[{}]},"mark":{"type":"text","text":"KNaEC-N","align":"left","baseline":"middle","fontWeight":"bold","fontSize":19},"encoding":{"x":{"datum":1.9},"y":{"datum":0.525},"color":{"datum":"KNaEC-N"}}},
  {"data":{"values":[{}]},"mark":{"type":"text","text":"EC-NS","align":"left","baseline":"middle","fontWeight":"bold","fontSize":19},"encoding":{"x":{"datum":14.06},"y":{"datum":0.525},"color":{"datum":"EC-NS"}}},
  {"data":{"values":[{}]},"mark":{"type":"text","text":"(a)","align":"right","baseline":"bottom","dx":-3,"dy":-2,"fontSize":19,"color":"#000"},"encoding":{"x":{"datum":24},"y":{"datum":0.2},"color":{"value":"#000"}}}
 ]},
{"width":178,"height":159,
 "encoding":{
  "x":{"type":"quantitative","scale":{"domain":[0,24],"nice":false,"zero":false},"axis":{"values":[0,1,2,3,4,5,6,7,8,9,10,11,12,13,14,15,16,17,18,19,20,21,22,23,24],"labelOverlap":false,"labelExpr":"datum.value % 4 === 0 ? datum.label : ''","tickSize":{"condition":{"test":"datum.value % 4 === 0","value":9},"value":5},"title":"Hour of Day"}},
  "y":{"type":"quantitative","scale":{"domain":[0.6,1.8],"nice":false,"zero":false},"axis":{"values":[0.6,0.9,1.2,1.5,1.8],"labelOverlap":false,"format":".1f","title":"ρeff (g cm⁻³)"}},
  "color":{"type":"nominal","scale":{"domain":["ECOC-NS","KECOC-CN","KECOC-NS","KAECOC-NS","KNaECOC-NS"],"range":["#ffb4b4","#6a0000","#0b7010","#ff4848","#7f10f5"]},"legend":null}},
 "layer":[
  {"data":{"name":"L"},"transform":[{"filter":"datum.p === 'b'"}],"mark":{"type":"line","strokeWidth":3,"interpolate":"monotone"},
   "encoding":{"x":{"field":"x"},"y":{"field":"y"},"color":{"field":"s"}}},
  {"data":{"values":[{}]},"mark":{"type":"text","text":"ECOC-NS","align":"left","baseline":"middle","fontWeight":"bold","fontSize":16},"encoding":{"x":{"datum":0.5},"y":{"datum":1.052},"color":{"datum":"ECOC-NS"}}},
  {"data":{"values":[{}]},"mark":{"type":"text","text":"KECOC-CN","align":"left","baseline":"middle","fontWeight":"bold","fontSize":16},"encoding":{"x":{"datum":11.3},"y":{"datum":1.052},"color":{"datum":"KECOC-CN"}}},
  {"data":{"values":[{}]},"mark":{"type":"text","text":"KECOC-NS","align":"left","baseline":"middle","fontWeight":"bold","fontSize":16},"encoding":{"x":{"datum":0.5},"y":{"datum":0.885},"color":{"datum":"KECOC-NS"}}},
  {"data":{"values":[{}]},"mark":{"type":"text","text":"KAECOC-NS","align":"left","baseline":"middle","fontWeight":"bold","fontSize":16},"encoding":{"x":{"datum":13.66},"y":{"datum":0.885},"color":{"datum":"KAECOC-NS"}}},
  {"data":{"values":[{}]},"mark":{"type":"text","text":"KNaECOC-NS","align":"left","baseline":"middle","fontWeight":"bold","fontSize":16},"encoding":{"x":{"datum":0.5},"y":{"datum":0.715},"color":{"datum":"KNaECOC-NS"}}},
  {"data":{"values":[{}]},"mark":{"type":"text","text":"(b)","align":"right","baseline":"bottom","dx":-3,"dy":-2,"fontSize":19},"encoding":{"x":{"datum":24},"y":{"datum":0.6},"color":{"value":"#000"}}}
 ]},
{"width":178,"height":159,
 "encoding":{
  "x":{"type":"quantitative","scale":{"domain":[0,24],"nice":false,"zero":false},"axis":{"values":[0,1,2,3,4,5,6,7,8,9,10,11,12,13,14,15,16,17,18,19,20,21,22,23,24],"labelOverlap":false,"labelExpr":"datum.value % 4 === 0 ? datum.label : ''","tickSize":{"condition":{"test":"datum.value % 4 === 0","value":9},"value":5},"title":"Hour of Day"}},
  "y":{"type":"quantitative","scale":{"domain":[0.6,1.8],"nice":false,"zero":false},"axis":{"values":[0.6,0.9,1.2,1.5,1.8],"labelOverlap":false,"format":".1f","title":"ρeff (g cm⁻³)"}},
  "color":{"type":"nominal","scale":{"domain":["KOC-N","KOC-NS","K-Amine-NS"],"range":["#9e9000","#1ef01e","#c0ffc0"]},"legend":null}},
 "layer":[
  {"data":{"name":"L"},"transform":[{"filter":"datum.p === 'c'"}],"mark":{"type":"line","strokeWidth":3,"interpolate":"monotone"},
   "encoding":{"x":{"field":"x"},"y":{"field":"y"},"color":{"field":"s"}}},
  {"data":{"values":[{}]},"mark":{"type":"text","text":"KOC-N","align":"left","baseline":"middle","fontWeight":"bold","fontSize":19},"encoding":{"x":{"datum":0.64},"y":{"datum":0.885},"color":{"datum":"KOC-N"}}},
  {"data":{"values":[{}]},"mark":{"type":"text","text":"KOC-NS","align":"left","baseline":"middle","fontWeight":"bold","fontSize":19},"encoding":{"x":{"datum":9.58},"y":{"datum":0.885},"color":{"datum":"KOC-NS"}}},
  {"data":{"values":[{}]},"mark":{"type":"text","text":"K-Amine-NS","align":"left","baseline":"middle","fontWeight":"bold","fontSize":19},"encoding":{"x":{"datum":0.64},"y":{"datum":0.715},"color":{"datum":"K-Amine-NS"}}},
  {"data":{"values":[{}]},"mark":{"type":"text","text":"(c)","align":"right","baseline":"bottom","dx":-3,"dy":-2,"fontSize":19},"encoding":{"x":{"datum":24},"y":{"datum":0.6},"color":{"value":"#000"}}}
 ]},
{"width":178,"height":159,
 "encoding":{
  "x":{"type":"quantitative","scale":{"domain":[0,24],"nice":false,"zero":false},"axis":{"values":[0,1,2,3,4,5,6,7,8,9,10,11,12,13,14,15,16,17,18,19,20,21,22,23,24],"labelOverlap":false,"labelExpr":"datum.value % 4 === 0 ? datum.label : ''","tickSize":{"condition":{"test":"datum.value % 4 === 0","value":9},"value":5},"title":"Hour of Day"}},
  "y":{"type":"quantitative","scale":{"domain":[0.6,1.8],"nice":false,"zero":false},"axis":{"values":[0.6,0.9,1.2,1.5,1.8],"labelOverlap":false,"format":".1f","title":"ρeff (g cm⁻³)"}},
  "color":{"type":"nominal","scale":{"domain":["K-N","KNa-N","Biomass-K","HOM"],"range":["#3db8f8","#c4d2ff","#ff0fb4","#0a45ff"]},"legend":null}},
 "layer":[
  {"data":{"name":"L"},"transform":[{"filter":"datum.p === 'd'"}],"mark":{"type":"line","strokeWidth":3,"interpolate":"monotone"},
   "encoding":{"x":{"field":"x"},"y":{"field":"y"},"color":{"field":"s"}}},
  {"data":{"values":[{}]},"mark":{"type":"text","text":"K-N","align":"left","baseline":"middle","fontWeight":"bold","fontSize":19},"encoding":{"x":{"datum":0.63},"y":{"datum":1.677},"color":{"datum":"K-N"}}},
  {"data":{"values":[{}]},"mark":{"type":"text","text":"KNa-N","align":"left","baseline":"middle","fontWeight":"bold","fontSize":19},"encoding":{"x":{"datum":5.86},"y":{"datum":1.677},"color":{"datum":"KNa-N"}}},
  {"data":{"values":[{}]},"mark":{"type":"text","text":"Biomass-K","align":"left","baseline":"middle","fontWeight":"bold","fontSize":19},"encoding":{"x":{"datum":0.63},"y":{"datum":1.472},"color":{"datum":"Biomass-K"}}},
  {"data":{"values":[{}]},"mark":{"type":"text","text":"HOM","align":"left","baseline":"middle","fontWeight":"bold","fontSize":19},"encoding":{"x":{"datum":15.05},"y":{"datum":1.472},"color":{"datum":"HOM"}}},
  {"data":{"values":[{}]},"mark":{"type":"text","text":"(d)","align":"right","baseline":"bottom","dx":-3,"dy":-2,"fontSize":19},"encoding":{"x":{"datum":24},"y":{"datum":0.6},"color":{"value":"#000"}}}
 ]},
{"width":178,"height":159,
 "encoding":{
  "x":{"type":"quantitative","scale":{"domain":[0,70],"nice":false,"zero":false},"axis":{"values":[0,10,20,30,40,50,60,70],"labelOverlap":false,"tickSize":10,"title":"NR-PM₁ (μg m⁻³)"}},
  "y":{"type":"quantitative","scale":{"domain":[0.2,1.4],"nice":false,"zero":false},"axis":{"values":[0.2,0.4,0.6,0.8,1.0,1.2,1.4],"labelOverlap":false,"format":".1f","title":"ρeff (g cm⁻³)"}},
  "color":{"type":"nominal","scale":{"domain":["Total-EC","pure-EC","KEC-N","KNaEC-N","EC-NS"],"range":["#000000","#000000","#0a3ad0","#70c8ff","#8c8c8c"]},"legend":null}},
 "layer":[
  {"data":{"name":"L"},"transform":[{"filter":"datum.p === 'e' && !test(/^(Total|Biomass|HOM)/, datum.s)"}],"mark":{"type":"line","strokeWidth":3,"strokeDash":[3,3],"interpolate":"monotone"},
   "encoding":{"x":{"field":"x"},"y":{"field":"y"},"color":{"field":"s"}}},
  {"data":{"name":"L"},"transform":[{"filter":"datum.p === 'e' && test(/^(Total|Biomass|HOM)/, datum.s)"}],"mark":{"type":"line","strokeWidth":3},
   "encoding":{"x":{"field":"x"},"y":{"field":"y"},"color":{"field":"s"}}},
  {"data":{"values":[{}]},"mark":{"type":"rule","strokeWidth":3},"encoding":{"x":{"datum":3.1},"x2":{"datum":14.1},"y":{"datum":1.28},"color":{"datum":"Total-EC"}}},
  {"data":{"values":[{}]},"mark":{"type":"text","text":"Total-EC","align":"left","baseline":"middle","fontWeight":"bold","fontSize":19},"encoding":{"x":{"datum":16.7},"y":{"datum":1.28},"color":{"value":"#000"}}},
  {"data":{"values":[{}]},"mark":{"type":"text","text":"(e)","align":"right","baseline":"bottom","dx":-3,"dy":-2,"fontSize":19},"encoding":{"x":{"datum":70},"y":{"datum":0.2},"color":{"value":"#000"}}}
 ]},
{"width":178,"height":159,
 "encoding":{
  "x":{"type":"quantitative","scale":{"domain":[0,70],"nice":false,"zero":false},"axis":{"values":[0,10,20,30,40,50,60,70],"labelOverlap":false,"tickSize":10,"title":"NR-PM₁ (μg m⁻³)"}},
  "y":{"type":"quantitative","scale":{"domain":[0.8,1.8],"nice":false,"zero":false},"axis":{"values":[0.8,1.0,1.2,1.4,1.6,1.8],"labelOverlap":false,"format":".1f","title":"ρeff (g cm⁻³)"}},
  "color":{"type":"nominal","scale":{"domain":["Total-ECOC","ECOC-NS","KECOC-CN","KECOC-NS","KAECOC-NS","KNaECOC-NS"],"range":["#cf4c08","#ffb4b4","#6a0000","#0b7010","#ff4848","#7f10f5"]},"legend":null}},
 "layer":[
  {"data":{"name":"L"},"transform":[{"filter":"datum.p === 'f' && !test(/^(Total|Biomass|HOM)/, datum.s)"}],"mark":{"type":"line","strokeWidth":3,"strokeDash":[3,3],"interpolate":"monotone"},
   "encoding":{"x":{"field":"x"},"y":{"field":"y"},"color":{"field":"s"}}},
  {"data":{"name":"L"},"transform":[{"filter":"datum.p === 'f' && test(/^(Total|Biomass|HOM)/, datum.s)"}],"mark":{"type":"line","strokeWidth":3},
   "encoding":{"x":{"field":"x"},"y":{"field":"y"},"color":{"field":"s"}}},
  {"data":{"values":[{}]},"mark":{"type":"rule","strokeWidth":3},"encoding":{"x":{"datum":12.5},"x2":{"datum":22.9},"y":{"datum":1.004},"color":{"datum":"Total-ECOC"}}},
  {"data":{"values":[{}]},"mark":{"type":"text","text":"Total-ECOC","align":"left","baseline":"middle","fontWeight":"bold","fontSize":19},"encoding":{"x":{"datum":25.5},"y":{"datum":1.004},"color":{"value":"#000"}}},
  {"data":{"values":[{}]},"mark":{"type":"text","text":"(f)","align":"right","baseline":"bottom","dx":-3,"dy":-2,"fontSize":19},"encoding":{"x":{"datum":70},"y":{"datum":0.8},"color":{"value":"#000"}}}
 ]},
{"width":178,"height":159,
 "encoding":{
  "x":{"type":"quantitative","scale":{"domain":[0,70],"nice":false,"zero":false},"axis":{"values":[0,10,20,30,40,50,60,70],"labelOverlap":false,"tickSize":10,"title":"NR-PM₁ (μg m⁻³)"}},
  "y":{"type":"quantitative","scale":{"domain":[0.8,1.8],"nice":false,"zero":false},"axis":{"values":[0.8,1.0,1.2,1.4,1.6,1.8],"labelOverlap":false,"format":".1f","title":"ρeff (g cm⁻³)"}},
  "color":{"type":"nominal","scale":{"domain":["Total-OC","KOC-N","KOC-NS","K-Amine-NS"],"range":["#569c0c","#9e9000","#1ef01e","#c0ffc0"]},"legend":null}},
 "layer":[
  {"data":{"name":"L"},"transform":[{"filter":"datum.p === 'g' && !test(/^(Total|Biomass|HOM)/, datum.s)"}],"mark":{"type":"line","strokeWidth":3,"strokeDash":[3,3],"interpolate":"monotone"},
   "encoding":{"x":{"field":"x"},"y":{"field":"y"},"color":{"field":"s"}}},
  {"data":{"name":"L"},"transform":[{"filter":"datum.p === 'g' && test(/^(Total|Biomass|HOM)/, datum.s)"}],"mark":{"type":"line","strokeWidth":3},
   "encoding":{"x":{"field":"x"},"y":{"field":"y"},"color":{"field":"s"}}},
  {"data":{"values":[{}]},"mark":{"type":"rule","strokeWidth":3},"encoding":{"x":{"datum":2.9},"x2":{"datum":13.4},"y":{"datum":1.7},"color":{"datum":"Total-OC"}}},
  {"data":{"values":[{}]},"mark":{"type":"text","text":"Total-OC","align":"left","baseline":"middle","fontWeight":"bold","fontSize":19},"encoding":{"x":{"datum":16.7},"y":{"datum":1.7},"color":{"value":"#000"}}},
  {"data":{"values":[{}]},"mark":{"type":"text","text":"(g)","align":"right","baseline":"bottom","dx":-3,"dy":-2,"fontSize":19},"encoding":{"x":{"datum":70},"y":{"datum":0.8},"color":{"value":"#000"}}}
 ]},
{"width":178,"height":159,
 "encoding":{
  "x":{"type":"quantitative","scale":{"domain":[0,70],"nice":false,"zero":false},"axis":{"values":[0,10,20,30,40,50,60,70],"labelOverlap":false,"tickSize":10,"title":"NR-PM₁ (μg m⁻³)"}},
  "y":{"type":"quantitative","scale":{"domain":[0.8,1.6],"nice":false,"zero":false},"axis":{"values":[0.8,1.0,1.2,1.4,1.6],"labelOverlap":false,"format":".1f","title":"ρeff (g cm⁻³)"}},
  "color":{"type":"nominal","scale":{"domain":["Total-IA","K-N","KNa-N","Biomass-K","HOM"],"range":["#a67ae6","#3db8f8","#c4d2ff","#ff0fb4","#0a45ff"]},"legend":null}},
 "layer":[
  {"data":{"name":"L"},"transform":[{"filter":"datum.p === 'h' && !test(/^(Total|Biomass|HOM)/, datum.s)"}],"mark":{"type":"line","strokeWidth":3,"strokeDash":[3,3],"interpolate":"monotone"},
   "encoding":{"x":{"field":"x"},"y":{"field":"y"},"color":{"field":"s"}}},
  {"data":{"name":"L"},"transform":[{"filter":"datum.p === 'h' && test(/^(Total|Biomass|HOM)/, datum.s)"}],"mark":{"type":"line","strokeWidth":3},
   "encoding":{"x":{"field":"x"},"y":{"field":"y"},"color":{"field":"s"}}},
  {"data":{"values":[{}]},"mark":{"type":"rule","strokeWidth":3},"encoding":{"x":{"datum":3.1},"x2":{"datum":13.5},"y":{"datum":1.52},"color":{"datum":"Total-IA"}}},
  {"data":{"values":[{}]},"mark":{"type":"text","text":"Total-IA","align":"left","baseline":"middle","fontWeight":"bold","fontSize":19},"encoding":{"x":{"datum":16.7},"y":{"datum":1.52},"color":{"value":"#000"}}},
  {"data":{"values":[{}]},"mark":{"type":"text","text":"(h)","align":"right","baseline":"bottom","dx":-3,"dy":-2,"fontSize":19},"encoding":{"x":{"datum":70},"y":{"datum":0.8},"color":{"value":"#000"}}}
 ]},
{"width":178,"height":159,
 "encoding":{
  "x":{"type":"quantitative","scale":{"domain":[10,90],"nice":false,"zero":false},"axis":{"values":[10,20,30,40,50,60,70,80,90],"labelOverlap":false,"title":"RH (%)"}},
  "y":{"type":"quantitative","scale":{"domain":[0.2,1.4],"nice":false,"zero":false},"axis":{"values":[0.2,0.4,0.6,0.8,1.0,1.2,1.4],"labelOverlap":false,"format":".1f","title":"ρeff (g cm⁻³)"}},
  "color":{"type":"nominal","scale":{"domain":["Total-EC","pure-EC","KEC-N","KNaEC-N","EC-NS"],"range":["#000000","#000000","#0a3ad0","#70c8ff","#8c8c8c"]},"legend":null}},
 "layer":[
  {"data":{"name":"L"},"transform":[{"filter":"datum.p === 'i' && !test(/^(Total|Biomass|HOM)/, datum.s)"}],"mark":{"type":"line","strokeWidth":3,"strokeDash":[3,3],"interpolate":"monotone"},
   "encoding":{"x":{"field":"x"},"y":{"field":"y"},"color":{"field":"s"}}},
  {"data":{"name":"L"},"transform":[{"filter":"datum.p === 'i' && test(/^(Total|Biomass|HOM)/, datum.s)"}],"mark":{"type":"line","strokeWidth":3},
   "encoding":{"x":{"field":"x"},"y":{"field":"y"},"color":{"field":"s"}}},
  {"data":{"values":[{}]},"mark":{"type":"text","text":"(i)","align":"right","baseline":"bottom","dx":-3,"dy":-2,"fontSize":19},"encoding":{"x":{"datum":90},"y":{"datum":0.2},"color":{"value":"#000"}}}
 ]},
{"width":178,"height":159,
 "encoding":{
  "x":{"type":"quantitative","scale":{"domain":[10,90],"nice":false,"zero":false},"axis":{"values":[10,20,30,40,50,60,70,80,90],"labelOverlap":false,"title":"RH (%)"}},
  "y":{"type":"quantitative","scale":{"domain":[0.8,1.6],"nice":false,"zero":false},"axis":{"values":[0.8,1.0,1.2,1.4,1.6],"labelOverlap":false,"format":".1f","title":"ρeff (g cm⁻³)"}},
  "color":{"type":"nominal","scale":{"domain":["Total-ECOC","ECOC-NS","KECOC-CN","KECOC-NS","KAECOC-NS","KNaECOC-NS"],"range":["#cf4c08","#ffb4b4","#6a0000","#0b7010","#ff4848","#7f10f5"]},"legend":null}},
 "layer":[
  {"data":{"name":"L"},"transform":[{"filter":"datum.p === 'j' && !test(/^(Total|Biomass|HOM)/, datum.s)"}],"mark":{"type":"line","strokeWidth":3,"strokeDash":[3,3],"interpolate":"monotone"},
   "encoding":{"x":{"field":"x"},"y":{"field":"y"},"color":{"field":"s"}}},
  {"data":{"name":"L"},"transform":[{"filter":"datum.p === 'j' && test(/^(Total|Biomass|HOM)/, datum.s)"}],"mark":{"type":"line","strokeWidth":3},
   "encoding":{"x":{"field":"x"},"y":{"field":"y"},"color":{"field":"s"}}},
  {"data":{"values":[{}]},"mark":{"type":"text","text":"(j)","align":"right","baseline":"bottom","dx":-3,"dy":-2,"fontSize":19},"encoding":{"x":{"datum":90},"y":{"datum":0.8},"color":{"value":"#000"}}}
 ]},
{"width":178,"height":159,
 "encoding":{
  "x":{"type":"quantitative","scale":{"domain":[10,90],"nice":false,"zero":false},"axis":{"values":[10,20,30,40,50,60,70,80,90],"labelOverlap":false,"title":"RH (%)"}},
  "y":{"type":"quantitative","scale":{"domain":[0.8,1.4],"nice":false,"zero":false},"axis":{"values":[0.8,1.0,1.2,1.4],"labelOverlap":false,"format":".1f","title":"ρeff (g cm⁻³)"}},
  "color":{"type":"nominal","scale":{"domain":["Total-OC","KOC-N","KOC-NS","K-Amine-NS"],"range":["#569c0c","#9e9000","#1ef01e","#c0ffc0"]},"legend":null}},
 "layer":[
  {"data":{"name":"L"},"transform":[{"filter":"datum.p === 'k' && !test(/^(Total|Biomass|HOM)/, datum.s)"}],"mark":{"type":"line","strokeWidth":3,"strokeDash":[3,3],"interpolate":"monotone"},
   "encoding":{"x":{"field":"x"},"y":{"field":"y"},"color":{"field":"s"}}},
  {"data":{"name":"L"},"transform":[{"filter":"datum.p === 'k' && test(/^(Total|Biomass|HOM)/, datum.s)"}],"mark":{"type":"line","strokeWidth":3},
   "encoding":{"x":{"field":"x"},"y":{"field":"y"},"color":{"field":"s"}}},
  {"data":{"values":[{}]},"mark":{"type":"text","text":"(k)","align":"right","baseline":"bottom","dx":-3,"dy":-2,"fontSize":19},"encoding":{"x":{"datum":90},"y":{"datum":0.8},"color":{"value":"#000"}}}
 ]},
{"width":178,"height":159,
 "encoding":{
  "x":{"type":"quantitative","scale":{"domain":[10,90],"nice":false,"zero":false},"axis":{"values":[10,20,30,40,50,60,70,80,90],"labelOverlap":false,"title":"RH (%)"}},
  "y":{"type":"quantitative","scale":{"domain":[0.6,1.4],"nice":false,"zero":false},"axis":{"values":[0.6,0.8,1.0,1.2,1.4],"labelOverlap":false,"format":".1f","title":"ρeff (g cm⁻³)"}},
  "color":{"type":"nominal","scale":{"domain":["Total-IA","K-N","KNa-N","Biomass-K","HOM"],"range":["#a67ae6","#3db8f8","#c4d2ff","#ff0fb4","#0a45ff"]},"legend":null}},
 "layer":[
  {"data":{"name":"L"},"transform":[{"filter":"datum.p === 'l' && !test(/^(Total|Biomass|HOM)/, datum.s)"}],"mark":{"type":"line","strokeWidth":3,"strokeDash":[3,3],"interpolate":"monotone"},
   "encoding":{"x":{"field":"x"},"y":{"field":"y"},"color":{"field":"s"}}},
  {"data":{"name":"L"},"transform":[{"filter":"datum.p === 'l' && test(/^(Total|Biomass|HOM)/, datum.s)"}],"mark":{"type":"line","strokeWidth":3},
   "encoding":{"x":{"field":"x"},"y":{"field":"y"},"color":{"field":"s"}}},
  {"data":{"values":[{}]},"mark":{"type":"text","text":"(l)","align":"right","baseline":"bottom","dx":-3,"dy":-2,"fontSize":19},"encoding":{"x":{"datum":90},"y":{"datum":0.6},"color":{"value":"#000"}}}
 ]}
],
"resolve": {"scale": {"color": "independent", "x": "independent", "y": "independent"}}
}
